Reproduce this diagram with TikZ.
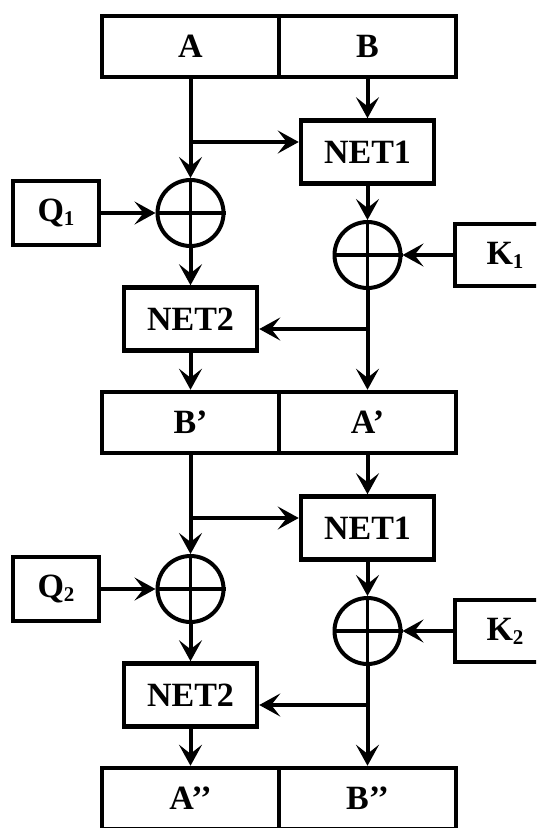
\documentclass[tikz,border=0pt]{standalone}
\usepackage{fontspec}
\setmainfont{Liberation Serif}
\usetikzlibrary{arrows.meta}
\newcommand{\sbx}[1]{\raisebox{-4pt}{\fontsize{21}{21}\selectfont #1}}
\begin{document}
\begin{tikzpicture}[x=1pt,y=-1pt,
  box/.style={draw,line width=4.5pt,minimum width=177pt,minimum height=61pt,inner sep=0pt,font=\fontsize{34}{37}\selectfont\bfseries},
  netbox/.style={box,minimum width=133pt,minimum height=63pt},
  keybox/.style={box,minimum width=86pt,minimum height=64pt},
  kkbox/.style={box,minimum width=100pt,minimum height=62pt},
  xorc/.style={draw,circle,line width=4pt,minimum size=66pt,inner sep=0pt},
  conn/.style={line width=4pt,-{Stealth[length=21pt,width=23pt,inset=9pt]}},
  crossl/.style={line width=3.5pt}]
\useasboundingbox (0,0) rectangle (536,828);
\clip (0,0) rectangle (536,828);
% ---------- first round ----------
\node[box] (A) at (190.5,46.5) {A};
\node[box] (B) at (367.5,46.5) {B};
\node[netbox] (N1) at (367.5,152) {NET1};
\node[xorc] (xl1) at (190.5,213) {};
\node[keybox] (Q1) at (56,213) {Q\sbx{1}};
\node[xorc] (xr1) at (367.5,255) {};
\node[kkbox] (K1) at (505,255) {K\sbx{1}};
\node[netbox] (N2) at (190.5,319) {NET2};
\node[box] (Bp) at (190.5,422.5) {B’};
\node[box] (Ap) at (367.5,422.5) {A’};
\coordinate (b1) at (190.5,142);
\coordinate (c1) at (367.5,329);
\draw[conn] (A.south) -- (xl1.north);
\draw[conn] (b1) -- (b1 -| N1.west);
\draw[conn] (B.south) -- (N1.north);
\draw[conn] (Q1.east) -- (xl1.west);
\draw[conn] (xl1.south) -- (N2.north);
\draw[conn] (N1.south) -- (xr1.north);
\draw[conn] (K1.west) -- (xr1.east);
\draw[conn] (xr1.south) -- (Ap.north);
\draw[conn] (c1) -- (c1 -| N2.east);
\draw[conn] (N2.south) -- (Bp.north);
\draw[crossl] (xl1.west) -- (xl1.east) (xl1.north) -- (xl1.south);
\draw[crossl] (xr1.west) -- (xr1.east) (xr1.north) -- (xr1.south);
% ---------- second round ----------
\node[netbox] (N1b) at (367.5,528) {NET1};
\node[xorc] (xl2) at (190.5,589) {};
\node[keybox] (Q2) at (56,589) {Q\sbx{2}};
\node[xorc] (xr2) at (367.5,631) {};
\node[kkbox] (K2) at (505,631) {K\sbx{2}};
\node[netbox] (N2b) at (190.5,695) {NET2};
\node[box] (App) at (190.5,798.5) {A’’};
\node[box] (Bpp) at (367.5,798.5) {B’’};
\coordinate (b2) at (190.5,518);
\coordinate (c2) at (367.5,705);
\draw[conn] (Bp.south) -- (xl2.north);
\draw[conn] (b2) -- (b2 -| N1b.west);
\draw[conn] (Ap.south) -- (N1b.north);
\draw[conn] (Q2.east) -- (xl2.west);
\draw[conn] (xl2.south) -- (N2b.north);
\draw[conn] (N1b.south) -- (xr2.north);
\draw[conn] (K2.west) -- (xr2.east);
\draw[conn] (xr2.south) -- (Bpp.north);
\draw[conn] (c2) -- (c2 -| N2b.east);
\draw[conn] (N2b.south) -- (App.north);
\draw[crossl] (xl2.west) -- (xl2.east) (xl2.north) -- (xl2.south);
\draw[crossl] (xr2.west) -- (xr2.east) (xr2.north) -- (xr2.south);
\end{tikzpicture}
\end{document}
